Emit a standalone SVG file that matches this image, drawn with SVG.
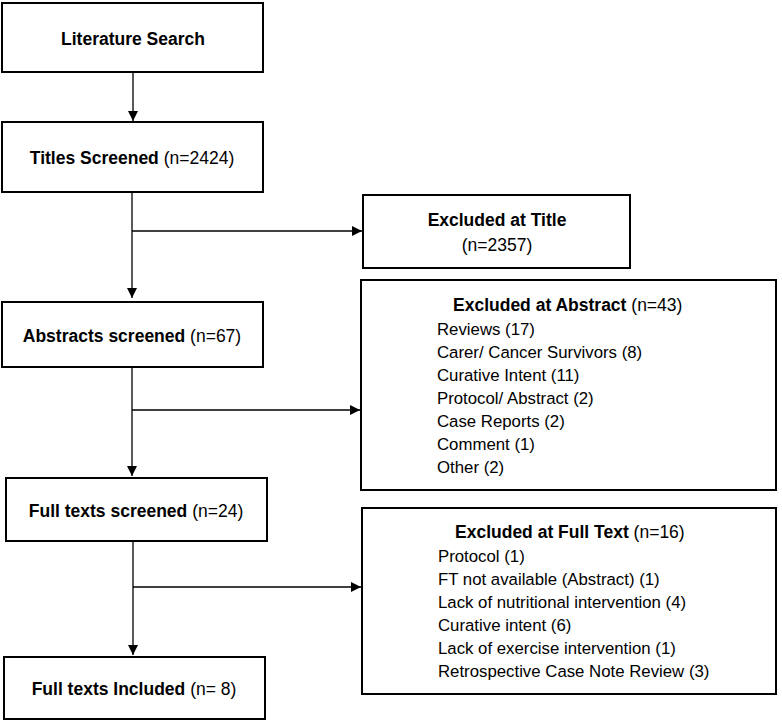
<svg xmlns="http://www.w3.org/2000/svg" width="782" height="720" viewBox="0 0 782 720">
<style>
.box{fill:#fff;stroke:#000;stroke-width:2}
.t{font-family:"Liberation Sans",Arial,sans-serif;font-size:17.5px;fill:#000}
.b{font-weight:bold}
.i{font-family:"Liberation Sans",Arial,sans-serif;font-size:16.8px;fill:#000}
.c{fill:none;stroke:#000;stroke-width:1.3}
</style>
<defs>
<marker id="ah" markerWidth="10" markerHeight="10" refX="10" refY="5" orient="auto" markerUnits="userSpaceOnUse">
<path d="M0,0 L10,5 L0,10 Z" fill="#000"/>
</marker>
</defs>
<rect width="782" height="720" fill="#fff"/>
<g id="connectors">
<line class="c" x1="133" y1="73" x2="133" y2="121" marker-end="url(#ah)"/>
<line class="c" x1="132" y1="192" x2="132" y2="298" marker-end="url(#ah)"/>
<line class="c" x1="132" y1="231" x2="362" y2="231" marker-end="url(#ah)"/>
<line class="c" x1="132" y1="367" x2="132" y2="476" marker-end="url(#ah)"/>
<line class="c" x1="132" y1="410" x2="360" y2="410" marker-end="url(#ah)"/>
<line class="c" x1="133" y1="541" x2="133" y2="655" marker-end="url(#ah)"/>
<line class="c" x1="133" y1="587" x2="361" y2="587" marker-end="url(#ah)"/>
</g>
<g id="literature-search">
<rect class="box" x="2" y="3" width="261" height="69"/>
<text class="t b" x="133" y="45" text-anchor="middle">Literature Search</text>
</g>
<g id="titles-screened">
<rect class="box" x="2" y="122" width="261" height="70"/>
<text class="t" x="132" y="164" text-anchor="middle"><tspan class="b">Titles Screened</tspan> (n=2424)</text>
</g>
<g id="excluded-title">
<rect class="box" x="363" y="195" width="267" height="73"/>
<text class="t b" x="497" y="226" text-anchor="middle">Excluded at Title</text>
<text class="t" x="497" y="251" text-anchor="middle">(n=2357)</text>
</g>
<g id="abstracts-screened">
<rect class="box" x="2" y="302" width="261" height="65"/>
<text class="t" x="132" y="342" text-anchor="middle"><tspan class="b">Abstracts screened</tspan> (n=67)</text>
</g>
<g id="excluded-abstract">
<rect class="box" x="361" y="280" width="415" height="210"/>
<text class="t" x="453" y="311"><tspan class="b">Excluded at Abstract</tspan> (n=43)</text>
<text class="i" x="437" y="335">Reviews (17)</text>
<text class="i" x="437" y="358">Carer/ Cancer Survivors (8)</text>
<text class="i" x="437" y="381">Curative Intent (11)</text>
<text class="i" x="437" y="404">Protocol/ Abstract (2)</text>
<text class="i" x="437" y="427">Case Reports (2)</text>
<text class="i" x="437" y="450">Comment (1)</text>
<text class="i" x="437" y="473">Other (2)</text>
</g>
<g id="full-texts-screened">
<rect class="box" x="6" y="478" width="261" height="63"/>
<text class="t" x="136" y="517" text-anchor="middle"><tspan class="b">Full texts screened</tspan> (n=24)</text>
</g>
<g id="excluded-fulltext">
<rect class="box" x="362" y="508" width="414" height="186"/>
<text class="t" x="455" y="538"><tspan class="b">Excluded at Full Text</tspan> (n=16)</text>
<text class="i" x="438" y="562">Protocol (1)</text>
<text class="i" x="438" y="585">FT not available (Abstract) (1)</text>
<text class="i" x="438" y="608">Lack of nutritional intervention (4)</text>
<text class="i" x="438" y="631">Curative intent (6)</text>
<text class="i" x="438" y="654">Lack of exercise intervention (1)</text>
<text class="i" x="438" y="677">Retrospective Case Note Review (3)</text>
</g>
<g id="full-texts-included">
<rect class="box" x="4" y="657" width="261" height="62"/>
<text class="t" x="134" y="695" text-anchor="middle"><tspan class="b">Full texts Included</tspan> (n= 8)</text>
</g>
</svg>
